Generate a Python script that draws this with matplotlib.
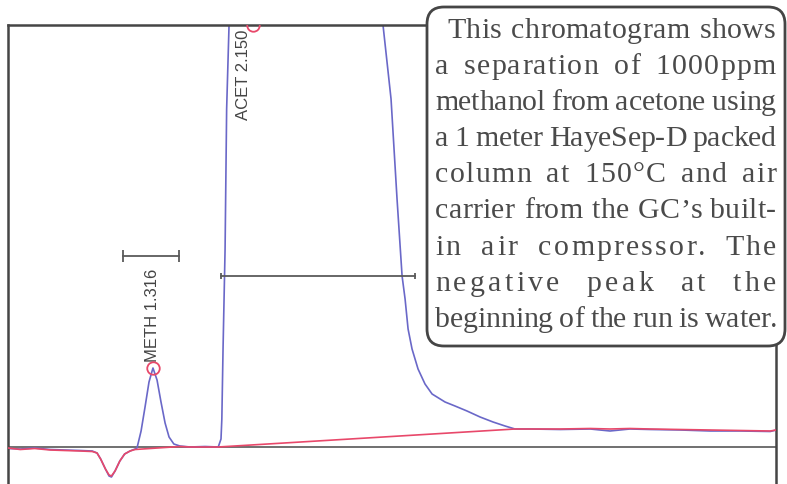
import matplotlib
matplotlib.use('Agg')
import matplotlib.pyplot as plt
from matplotlib.patches import FancyBboxPatch
from matplotlib.font_manager import FontProperties

# detector trace (minutes, mV-ish)
sig_t = [0.11, 0.21, 0.33, 0.46, 0.58, 0.71, 0.81,
         0.85, 0.88, 0.92, 0.95, 0.97, 1.00, 1.04, 1.08, 1.125, 1.167,
         1.183, 1.217, 1.25, 1.283, 1.316, 1.35, 1.383, 1.417, 1.45, 1.49, 1.54,
         1.625, 1.75, 1.86,
         1.883, 1.89, 1.90, 1.917, 1.93, 1.95, 2.15, 2.8,
         3.233, 3.30, 3.35, 3.392, 3.417, 3.442, 3.475, 3.525, 3.583, 3.642,
         3.75, 3.833, 3.933, 4.042, 4.15, 4.25, 4.333,
         4.46, 4.71, 4.96, 5.125, 5.29, 5.46, 5.71, 5.96, 6.21, 6.46, 6.51]
sig_v = [-0.15, -0.2, -0.1, -0.25, -0.3, -0.35, -0.4,
         -0.6, -1.2, -2.2, -2.9, -3.0, -2.4, -1.4, -0.7, -0.4, -0.2,
         -0.1, 1.6, 4.0, 6.5, 7.9, 6.7, 4.5, 2.4, 1.0, 0.3, 0.1,
         0.0, 0.05, 0.0,
         0.8, 2.8, 9.8, 19.8, 33.8, 42.2, 150, 70,
         42.2, 34.8, 24.8, 17.1, 14.8, 11.8, 9.8, 7.8, 6.3, 5.3,
         4.5, 4.1, 3.6, 3.0, 2.5, 2.1, 1.8,
         1.8, 1.75, 1.8, 1.6, 1.8, 1.75, 1.7, 1.6, 1.6, 1.55, 1.7]

# integration baseline (red)
base_t = [0.11, 0.21, 0.33, 0.46, 0.58, 0.71, 0.81, 0.85, 0.88, 0.92, 0.95, 0.97,
          1.00, 1.04, 1.08, 1.125, 1.167, 1.54, 1.625, 1.75, 1.86, 4.333,
          4.46, 4.71, 4.96, 5.125, 5.29, 5.46, 5.71, 5.96, 6.21, 6.46, 6.51]
base_v = [-0.1, -0.25, -0.15, -0.3, -0.35, -0.4, -0.45, -0.6, -1.2, -2.2, -2.8, -2.9,
          -2.4, -1.4, -0.7, -0.4, -0.25, 0.05, 0.0, 0.0, 0.0, 1.8,
          1.8, 1.8, 1.85, 1.8, 1.85, 1.8, 1.75, 1.7, 1.65, 1.6, 1.7]

# peaks
peak_names = ['METH', 'ACET']
peak_rt = [1.316, 2.150]
peak_top = [7.9, 42.2]
width_lo = [1.067, 1.883]
width_hi = [1.533, 3.50]
width_y = [19.1, 17.1]

note_lines = ['This chromatogram shows',
              'a separation of 1000ppm',
              'methanol from acetone using',
              'a 1 meter HayeSep-D packed',
              'column at 150\u00b0C and air',
              'carrier from the GC\u2019s built-',
              'in air compressor. The',
              'negative peak at the',
              'beginning of the run is water.']

blue = '#6a68c8'
red = '#e8486a'
frame = '#454545'

fig = plt.figure(figsize=(7.87, 4.85), dpi=100)
ax = fig.add_axes([8/787, 0, 768/787, 459/485])
ax.set_xlim(0.108, 6.508)
ax.set_ylim(-3.7, 42.2)
ax.set_xticks([])
ax.set_yticks([])
for s in ['left', 'top', 'right']:
    ax.spines[s].set_color(frame)
    ax.spines[s].set_linewidth(1.8)
ax.spines['bottom'].set_visible(False)

ax.axhline(0, color='#707070', lw=1.4, zorder=1)
ax.plot(sig_t, sig_v, color=blue, lw=1.2, zorder=2)
ax.plot(base_t, base_v, color=red, lw=1.2, zorder=3)

# peak markers, labels, width bars
lab_x = [1.316, 2.067]
for i in range(2):
    ax.plot(peak_rt[i], peak_top[i], 'o', mfc='none', mec=red, ms=9, mew=1.3, zorder=4)
    ax.plot([width_lo[i], width_hi[i]], [width_y[i], width_y[i]], color='#5a5a5a', lw=1.3,
            marker='|', ms=8 if i == 0 else 4, mew=1.3, zorder=4)
lab = f'{peak_names[0]} {peak_rt[0]:.3f}'
ax.text(lab_x[0], 8.6, lab, rotation=90, ha='center', va='bottom',
        fontsize=12, color='#444444', family='Liberation Sans')
lab = f'{peak_names[1]} {peak_rt[1]:.3f}'
ax.text(lab_x[1], 41.8, lab, rotation=90, ha='center', va='top',
        fontsize=12, color='#444444', family='Liberation Sans')

# note box, in inches
box = FancyBboxPatch((4.27, 1.38), 3.58, 3.39,
                     boxstyle='round,pad=0,rounding_size=0.17',
                     transform=fig.dpi_scale_trans, fc='white', ec=frame,
                     lw=2, zorder=5)
fig.add_artist(box)

# justified text: spread the slack over letter gaps and (more) over spaces
renderer = fig.canvas.get_renderer()
fp = FontProperties(family='Liberation Serif', size=21.5)

def tw(s):
    return renderer.get_text_width_height_descent(s, fp, ismath=False)[0] / 100

space_w = tw('a a') - tw('aa')
sw = 6  # weight of a space gap vs a letter gap
left, right = 4.35, 7.76
for i, line in enumerate(note_lines):
    words = line.split(' ')
    y = (485 - (38 + 36.1 * i)) / 100
    x0 = left + (0.12 if i == 0 else 0)
    natural = sum(tw(w) for w in words) + space_w * (len(words) - 1)
    n_letter = sum(len(w) - 1 for w in words)
    n_space = len(words) - 1
    unit = (right - x0 - natural) / (n_letter + sw * n_space)
    x = x0
    for w in words:
        for j, ch in enumerate(w):
            cx = x + (tw(w[:j]) if j else 0) + j * unit
            fig.text(cx, y, ch, transform=fig.dpi_scale_trans, fontproperties=fp,
                     color='#4a4a4a', va='baseline', zorder=6)
        x += tw(w) + (len(w) - 1) * unit + space_w + sw * unit

fig.savefig('out.png', dpi=100)
